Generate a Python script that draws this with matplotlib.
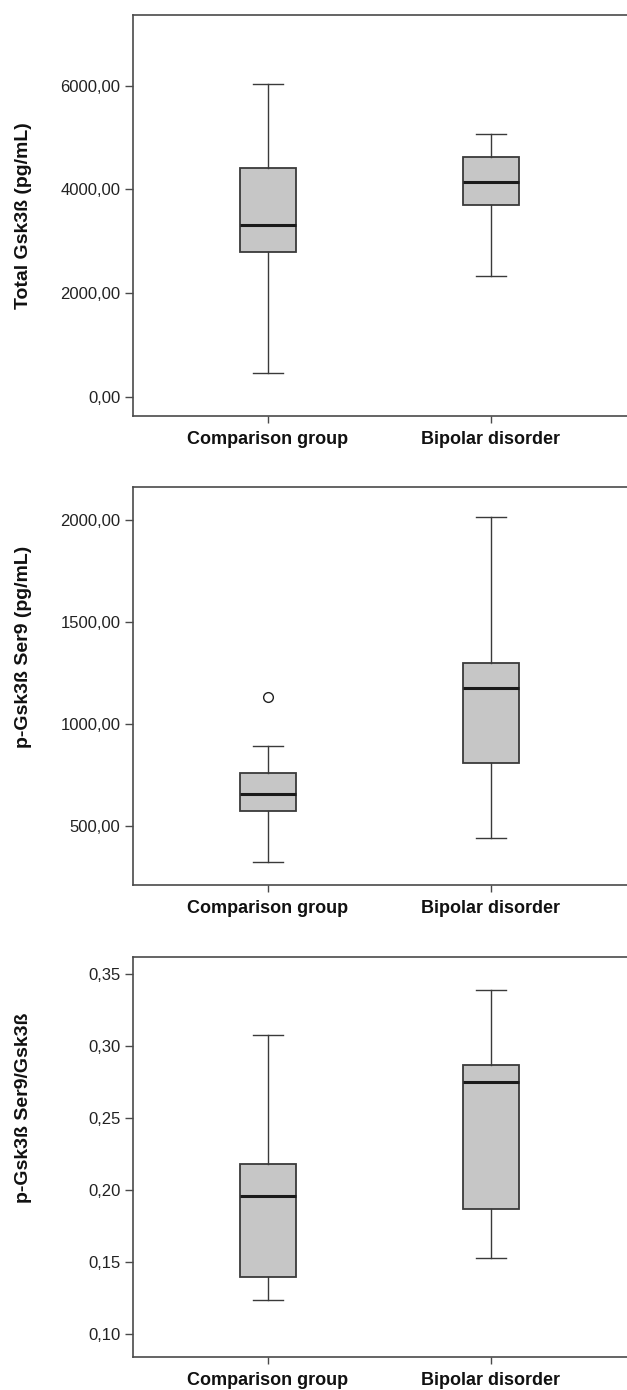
import matplotlib
matplotlib.use('Agg')
import matplotlib.pyplot as plt

plt.rcParams['font.family'] = ['Liberation Sans', 'DejaVu Sans']

groups = ['Comparison group', 'Bipolar disorder']

# panel 1: Total Gsk3b
total_whislo = [450, 2328]
total_q1 = [2797, 3704]
total_med = [3305, 4141]
total_q3 = [4405, 4617]
total_whishi = [6026, 5074]
total_fliers = [[], []]

# panel 2: p-Gsk3b Ser9
pser_whislo = [321, 441]
pser_q1 = [572, 805]
pser_med = [656, 1176]
pser_q3 = [759, 1297]
pser_whishi = [890, 2018]
pser_fliers = [[1132], []]

# panel 3: ratio
ratio_whislo = [0.124, 0.153]
ratio_q1 = [0.140, 0.187]
ratio_med = [0.196, 0.275]
ratio_q3 = [0.218, 0.287]
ratio_whishi = [0.308, 0.339]
ratio_fliers = [[], []]

total_ticks = [0, 2000, 4000, 6000]
total_ticklabels = ['0,00', '2000,00', '4000,00', '6000,00']
pser_ticks = [500, 1000, 1500, 2000]
pser_ticklabels = ['500,00', '1000,00', '1500,00', '2000,00']
ratio_ticks = [0.10, 0.15, 0.20, 0.25, 0.30, 0.35]
ratio_ticklabels = ['0,10', '0,15', '0,20', '0,25', '0,30', '0,35']

W, H = 627, 1390
fig = plt.figure(figsize=(W / 100, H / 100), dpi=100)

edge = '#3a3a3a'
spine_c = '#4a4a4a'


def make_stats(whislo, q1, med, q3, whishi, fliers):
    stats = []
    for i in range(len(groups)):
        stats.append(dict(whislo=whislo[i], q1=q1[i], med=med[i], q3=q3[i],
                          whishi=whishi[i], fliers=fliers[i]))
    return stats


def draw_panel(rect, stats, ylim, ticks, ticklabels, ylabel, label_y=0.5):
    ax = fig.add_axes(rect)
    ax.bxp(stats, positions=[1, 2], widths=0.25, capwidths=0.133,
           patch_artist=True, showfliers=True,
           boxprops=dict(facecolor='#c6c6c6', edgecolor=edge, linewidth=1.3),
           medianprops=dict(color='#1a1a1a', linewidth=2.2),
           whiskerprops=dict(color=edge, linewidth=1.0),
           capprops=dict(color=edge, linewidth=1.0),
           flierprops=dict(marker='o', markerfacecolor='white',
                           markeredgecolor='#222222', markersize=7,
                           markeredgewidth=1.0))
    ax.set_xlim(0.395, 2.61)
    ax.set_ylim(*ylim)
    ax.set_yticks(ticks)
    ax.set_yticklabels(ticklabels, fontsize=12, color='#222222')
    ax.set_xticks([1, 2])
    ax.set_xticklabels(groups, fontsize=13, fontweight='bold', color='#111111')
    ax.tick_params(axis='y', length=6, width=1.0, color=spine_c, pad=3)
    ax.tick_params(axis='x', length=5, width=1.0, color=spine_c, pad=6)
    for s in ['top', 'left', 'bottom']:
        ax.spines[s].set_color(spine_c)
        ax.spines[s].set_linewidth(1.2)
    ax.spines['right'].set_visible(False)
    ax.set_ylabel(ylabel, fontsize=14, fontweight='bold', color='#111111')
    ax.yaxis.set_label_coords(-0.204, label_y)
    return ax


left = 133 / W
width = 1 - left

draw_panel([left, 1 - 415.7 / H, width, 401 / H],
           make_stats(total_whislo, total_q1, total_med, total_q3, total_whishi, total_fliers),
           (-367, 7370), total_ticks, total_ticklabels, 'Total Gsk3ß (pg/mL)')

draw_panel([left, 1 - 885 / H, width, 397.7 / H],
           make_stats(pser_whislo, pser_q1, pser_med, pser_q3, pser_whishi, pser_fliers),
           (208, 2162), pser_ticks, pser_ticklabels, 'p-Gsk3ß Ser9 (pg/mL)',
           label_y=0.598)

draw_panel([left, 1 - 1356.7 / H, width, 399.4 / H],
           make_stats(ratio_whislo, ratio_q1, ratio_med, ratio_q3, ratio_whishi, ratio_fliers),
           (0.0845, 0.3618), ratio_ticks, ratio_ticklabels, 'p-Gsk3ß Ser9/Gsk3ß',
           label_y=0.623)

fig.savefig('out.png', dpi=100)
